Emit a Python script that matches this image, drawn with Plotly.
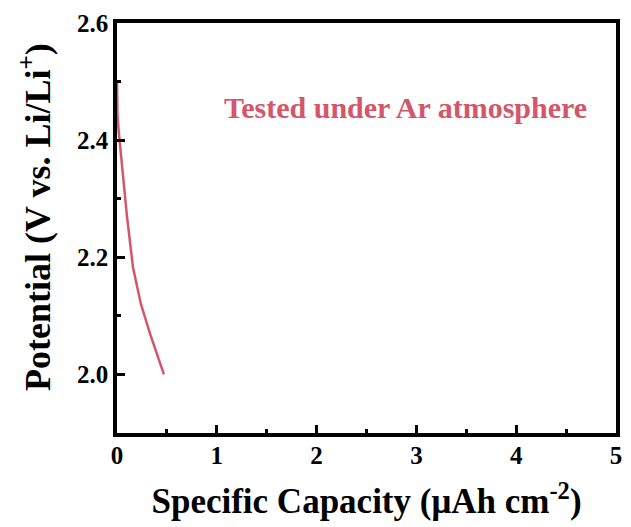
import plotly.graph_objects as go

# Discharge curve under Ar atmosphere
capacity = [0.0, 0.005, 0.02, 0.05, 0.10, 0.16, 0.24, 0.33, 0.40, 0.47]
potential = [2.50, 2.44, 2.41, 2.36, 2.27, 2.183, 2.12, 2.07, 2.035, 2.0]

x_ticks = [0, 1, 2, 3, 4, 5]
y_ticks = [2.0, 2.2, 2.4, 2.6]

curve_color = "#D4566A"
font_family = "Times New Roman, Liberation Serif, serif"

fig = go.Figure()
fig.add_trace(go.Scatter(
    x=capacity, y=potential, mode="lines",
    line=dict(color=curve_color, width=2.5),
    showlegend=False,
))

axis_common = dict(
    showline=True, linecolor="black", linewidth=3.5, mirror=True,
    ticks="inside", ticklen=8, tickwidth=3, tickcolor="black",
    showgrid=False, zeroline=False,
    tickfont=dict(family=font_family, size=25, color="black", weight="bold"),
)

fig.update_xaxes(
    range=[0, 5], tickvals=x_ticks, ticktext=[str(v) for v in x_ticks],
    minor=dict(ticks="inside", ticklen=4, tickwidth=3, dtick=0.5, tickcolor="black"),
    title=dict(text="Specific Capacity (μAh cm<sup>-2</sup>)",
               font=dict(family=font_family, size=35, color="black", weight="bold"),
               standoff=22),
    ticklabelstandoff=-3,
    **axis_common,
)
fig.update_yaxes(
    range=[1.9, 2.6], tickvals=y_ticks, ticktext=[f"{v:.1f}" for v in y_ticks],
    minor=dict(ticks="inside", ticklen=4, tickwidth=3, dtick=0.1, tickcolor="black"),
    ticklabelstandoff=0,
    **axis_common,
)

# Y-axis title placed as a rotated annotation
fig.add_annotation(
    x=-0.1624, y=0.527, xref="paper", yref="paper",
    xanchor="center", yanchor="middle", textangle=-90,
    text="Potential (V vs. Li/Li<sup>+</sup>)", showarrow=False,
    font=dict(family=font_family, size=36, color="black", weight="bold"),
)

fig.add_annotation(
    x=1.05, y=2.456, xref="x", yref="y", xanchor="left", yanchor="middle",
    text="Tested under Ar atmosphere", showarrow=False,
    font=dict(family=font_family, size=30, color=curve_color, weight="bold"),
)

fig.update_layout(
    width=631, height=527,
    margin=dict(l=117, r=9, t=23, b=94),
    plot_bgcolor="white", paper_bgcolor="white",
)

fig.write_html("out.html")
